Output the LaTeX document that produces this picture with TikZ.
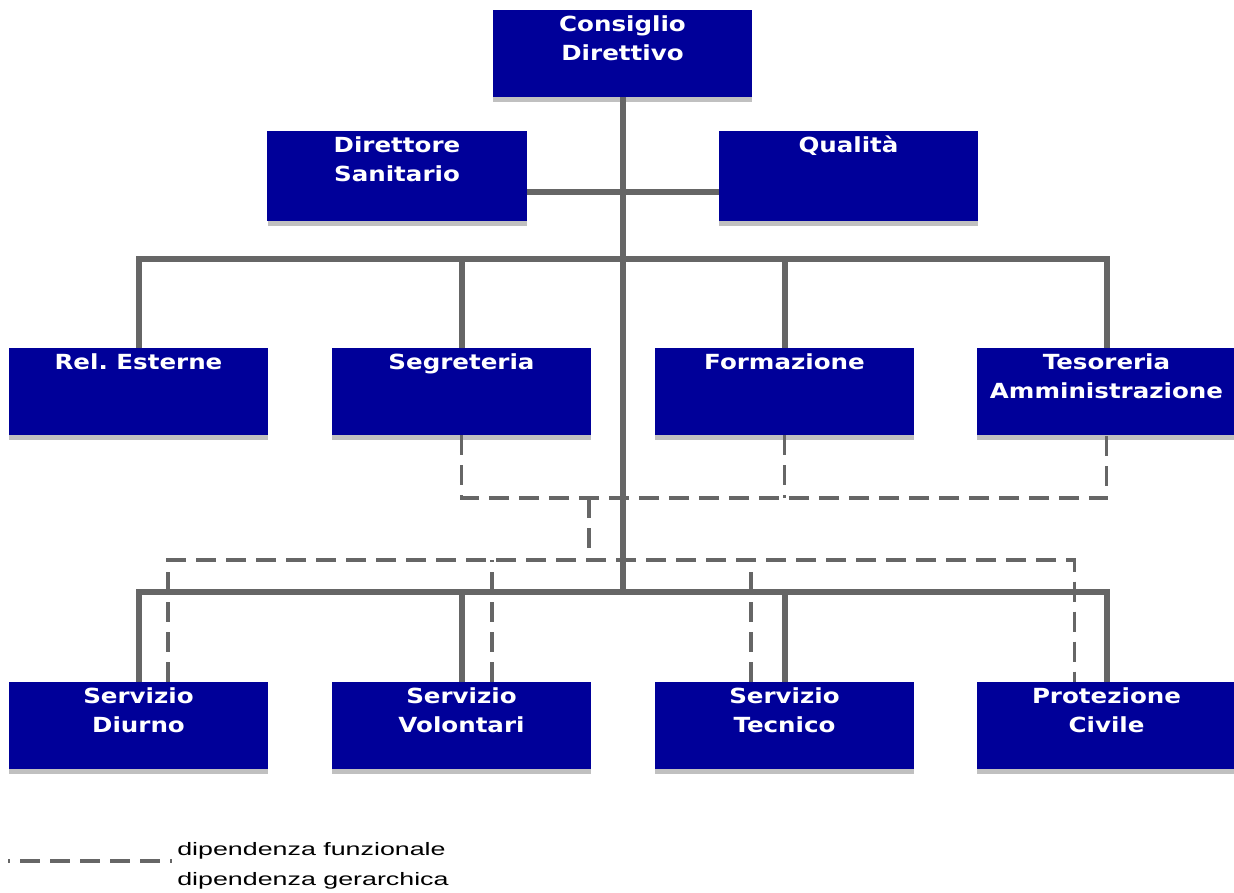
\documentclass[tikz,border=0pt]{standalone}
\usepackage{fontspec}
\usetikzlibrary{shadows}
\newfontfamily\boxfont[FakeStretch=1.18]{DejaVu Sans}
\newfontfamily\legfont[FakeStretch=1.49]{Liberation Sans}
\definecolor{boxblue}{RGB}{0,0,153}
\definecolor{linegray}{RGB}{102,102,102}
\definecolor{shadowgray}{RGB}{192,192,192}
\tikzset{
  orgbox/.style={rectangle, fill=boxblue, draw=none, inner sep=0pt,
    minimum width=259*0.75pt, minimum height=87*0.75pt,
    drop shadow={shadow xshift=0pt, shadow yshift=-3.75pt, fill=shadowgray, opacity=1}},
  tallbox/.style={orgbox, minimum height=90*0.75pt},
  boxtext/.style={text=white, inner sep=0pt, align=center, anchor=north,
    font=\boxfont\bfseries\fontsize{15.6}{21.75}\selectfont},
  hier/.style={draw=linegray, line width=4.5pt},
  func/.style={draw=linegray, line width=2.8pt, dash pattern=on 15pt off 7.5pt},
  legtext/.style={anchor=base west, inner sep=0pt, text=black,
    font=\legfont\fontsize{13.5}{16}\selectfont}
}
\begin{document}
\begin{tikzpicture}[x=0.75pt, y=-0.75pt]
\useasboundingbox (0,0) rectangle (1234,892);

% hub coordinates
\coordinate (h1) at (623,259);
\coordinate (h2) at (623,592);
\coordinate (d1) at (589,498);
\coordinate (d2) at (589,560);

% boxes
\node[orgbox] (cd) at (622.5,53.5) {};
\node[tallbox] (ds) at (397,176) {};
\node[tallbox] (q) at (848.5,176) {};
\node[orgbox] (rel) at (138.5,391.5) {};
\node[orgbox] (seg) at (461.5,391.5) {};
\node[orgbox] (for) at (784.5,391.5) {};
\node[orgbox] (tes) at (1106.5,391.5) {};
\node[orgbox] (sd) at (138.5,725.5) {};
\node[orgbox] (sv) at (461.5,725.5) {};
\node[orgbox] (st) at (784.5,725.5) {};
\node[orgbox] (pc) at (1106.5,725.5) {};

% hierarchical connectors
\draw[hier] (cd.south) -- (cd.south |- h2);
\draw[hier] ([yshift=-12pt]ds.east) -- ([yshift=-12pt]q.west);
\draw[hier] (rel.north) |- (h1) -| (tes.north);
\draw[hier] (seg.north) -- (seg.north |- h1);
\draw[hier] (for.north) -- (for.north |- h1);
\draw[hier] (sd.north) |- (h2) -| (pc.north);
\draw[hier] (sv.north) -- (sv.north |- h2);
\draw[hier] (st.north) -- (st.north |- h2);

% functional connectors
\draw[func] (seg.south) |- (d1) -| (tes.south);
\draw[func] (for.south) -- (for.south |- d1);
\draw[func] (d1) -- (d2);
\draw[func] ([xshift=22pt]sd.north) |- (d2) -| ([xshift=-24pt]pc.north);
\draw[func] ([xshift=23pt]sv.north) -- ([xshift=23pt]sv.north |- d2);
\draw[func] ([xshift=-25pt]st.north) -- ([xshift=-25pt]st.north |- d2);

% redraw boxes over line ends
\foreach \b in {cd,ds,q,rel,seg,for,tes,sd,sv,st,pc}{
  \fill[boxblue] (\b.south west) rectangle (\b.north east);
}

% texts
\node[boxtext] (cdt) at ([yshift=-4pt]cd.north) {Consiglio\\Direttivo};
\node[boxtext] (dst) at ([yshift=-4pt]ds.north) {Direttore\\Sanitario};
\node[boxtext] (qt) at ([yshift=-4pt]q.north) {Qualità};
\node[boxtext] (relt) at ([yshift=-4pt]rel.north) {Rel.\ Esterne};
\node[boxtext] (segt) at ([yshift=-4pt]seg.north) {Segreteria};
\node[boxtext] (fort) at ([yshift=-4pt]for.north) {Formazione};
\node[boxtext] (test) at ([yshift=-4pt]tes.north) {Tesoreria\\Amministrazione};
\node[boxtext] (sdt) at ([yshift=-4pt]sd.north) {Servizio\\Diurno};
\node[boxtext] (svt) at ([yshift=-4pt]sv.north) {Servizio\\Volontari};
\node[boxtext] (stt) at ([yshift=-4pt]st.north) {Servizio\\Tecnico};
\node[boxtext] (pct) at ([yshift=-4pt]pc.north) {Protezione\\Civile};

% legend
\coordinate (la) at (8,861);
\coordinate (lb) at (172,861);
\draw[func, dash phase=13.5pt] (la) -- (lb);
\node[legtext] (l1) at (177,855) {dipendenza funzionale};
\node[legtext] (l2) at (177,885) {dipendenza gerarchica};
\end{tikzpicture}
\end{document}
